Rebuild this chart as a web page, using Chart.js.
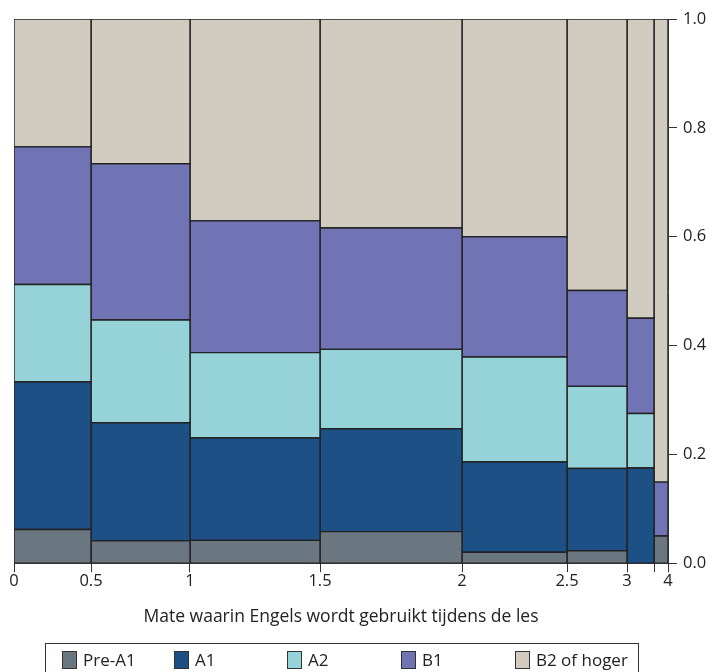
<!DOCTYPE html>
<html>
<head>
<meta charset="utf-8">
<script src="https://cdn.jsdelivr.net/npm/chart.js@4.4.1/dist/chart.umd.min.js"></script>
<style>
  body { margin: 0; background: #fff; }
  #wrap { position: relative; width: 712px; height: 672px; overflow: hidden; }
  #legend { position: absolute; left: 45px; top: 643px; width: 594px; height: 40px; border: 1px solid #333; box-sizing: border-box;
    font-family: "Open Sans", sans-serif; font-size: 17px; color: #222; }
  .item { position: absolute; top: 6px; height: 20px; line-height: 20px; white-space: nowrap; }
  .sw { display: inline-block; width: 15px; height: 18px; border: 1px solid #333; box-sizing: border-box; vertical-align: middle; margin-right: 6px; position: relative; top: -1px; }
</style>
</head>
<body>
<div id="wrap">
  <canvas id="chart" width="712" height="672"></canvas>
  <div id="legend"></div>
</div>
<script>
document.addEventListener("DOMContentLoaded", function () {
  // Groups on the x axis (relative group sizes give the bar widths)
  const groupSizes = [77, 99, 130, 142, 105, 60, 27, 14];
  const xTickLabels = ['0', '0.5', '1', '1.5', '2', '2.5', '3', '', '4'];

  // Share of each level within every group
  const levels = ['Pre-A1', 'A1', 'A2', 'B1', 'B2 of hoger'];
  const preA1 = [0.062, 0.041, 0.042, 0.058, 0.020, 0.023, 0.000, 0.050];
  const a1    = [0.271, 0.217, 0.188, 0.189, 0.166, 0.151, 0.175, 0.000];
  const a2    = [0.179, 0.189, 0.157, 0.146, 0.193, 0.151, 0.100, 0.000];
  const b1    = [0.253, 0.287, 0.242, 0.223, 0.221, 0.176, 0.175, 0.099];
  const b2    = [0.235, 0.266, 0.371, 0.384, 0.400, 0.499, 0.550, 0.851];
  const series = [preA1, a1, a2, b1, b2];
  const colors = ['#6a7680', '#1d5186', '#96d3d9', '#7074b4', '#d2cbc0'];

  // cumulative x boundaries
  const bounds = [0];
  groupSizes.forEach(s => bounds.push(bounds[bounds.length - 1] + s));

  // one filled polygon per cell of the mosaic
  const datasets = [];
  for (let g = 0; g < groupSizes.length; g++) {
    let lo = 0;
    for (let k = 0; k < series.length; k++) {
      const hi = lo + series[k][g];
      if (series[k][g] > 0) {
        const x0 = bounds[g], x1 = bounds[g + 1];
        datasets.push({
          label: levels[k],
          data: [{x: x0, y: lo}, {x: x0, y: hi}, {x: x1, y: hi}, {x: x1, y: lo}, {x: x0, y: lo}],
          showLine: true,
          fill: 'shape',
          backgroundColor: colors[k],
          borderColor: '#222',
          borderWidth: 1.4,
          pointRadius: 0,
          pointHoverRadius: 0,
          tension: 0
        });
      }
      lo = hi;
    }
  }

  Chart.defaults.font.family = '"Open Sans", sans-serif';
  Chart.defaults.color = '#222';

  new Chart(document.getElementById('chart').getContext('2d'), {
    type: 'scatter',
    data: { datasets: datasets },
    options: {
      responsive: false,
      animation: false,
      layout: { padding: { left: 14, top: 19, right: 0, bottom: 40 } },
      plugins: { legend: { display: false }, tooltip: { enabled: false } },
      scales: {
        x: {
          type: 'linear',
          min: 0,
          max: bounds[bounds.length - 1],
          afterBuildTicks: function (scale) {
            scale.ticks = bounds.map(v => ({ value: v }));
          },
          ticks: {
            autoSkip: false,
            maxRotation: 0,
            padding: -1,
            font: { size: 16.5 },
            callback: function (value, index) { return xTickLabels[index]; }
          },
          grid: { drawOnChartArea: false, drawTicks: true, tickLength: 9, color: '#333' },
          border: { display: true, color: '#333', width: 1 },
          title: {
            display: true,
            text: 'Mate waarin Engels wordt gebruikt tijdens de les',
            font: { size: 17.5 },
            padding: { top: 17, bottom: 4 }
          }
        },
        y: {
          position: 'right',
          min: 0,
          max: 1,
          ticks: {
            stepSize: 0.2,
            padding: 6,
            font: { size: 16.5 },
            callback: function (value) { return value.toFixed(1); }
          },
          afterFit: function (scale) { scale.width = 44; },
          grid: { drawOnChartArea: false, drawTicks: true, tickLength: 9, color: '#333' },
          border: { display: true, color: '#333', width: 1 }
        }
      }
    }
  });

  // legend
  const legend = document.getElementById('legend');
  const offsets = [16, 128, 241, 355, 469];
  levels.forEach(function (name, k) {
    const item = document.createElement('div');
    item.className = 'item';
    item.style.left = offsets[k] + 'px';
    item.innerHTML = '<span class="sw" style="background:' + colors[k] + '"></span>' + name;
    legend.appendChild(item);
  });
});
</script>
</body>
</html>
